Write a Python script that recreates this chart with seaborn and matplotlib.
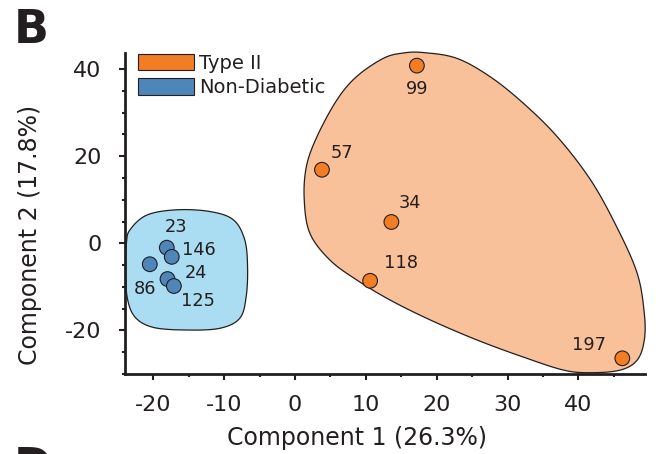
import numpy as np
import pandas as pd
import matplotlib
matplotlib.use('Agg')
import matplotlib.pyplot as plt
from matplotlib.patches import Patch
from matplotlib.ticker import MultipleLocator
import seaborn as sns

# PCA scores (component 1, component 2)
SAMPLE_IDS = ['23', '146', '86', '24', '125', '99', '57', '34', '118', '197']
GROUPS = ['Non-Diabetic'] * 5 + ['Type II'] * 5
COMP1 = [-18.1, -17.4, -20.5, -18.0, -17.1, 17.2, 3.8, 13.6, 10.6, 46.2]
COMP2 = [-1.0, -3.1, -4.8, -8.2, -9.8, 40.8, 16.9, 4.9, -8.6, -26.4]
# label offsets (points) for each sample id
LABEL_DX = [6.5, 19.7, -3.1, 20.4, 17.5, 0.0, 14.2, 13.2, 22.0, -24.0]
LABEL_DY = [15.0, 4.8, -18.0, 4.5, -10.8, -17.0, 12.0, 13.9, 13.0, 9.6]

# cluster outlines (data coords), smoothed into closed curves
TYPE2_HULL_X = [18.1, 22.8, 27.5, 32.2, 37.0, 41.7, 45.4, 48.3, 49.3, 49.3, 48.3, 45.9,
                41.7, 37.9, 32.2, 25.7, 19.1, 13.4, 8.7, 4.9, 2.1, 1.3, 1.6, 3.1,
                5.9, 8.7, 12.5, 15.3]
TYPE2_HULL_Y = [43.8, 42.5, 38.3, 32.2, 24.5, 14.6, 3.8, -6.9, -16.1, -22.2, -26.8, -29.1,
                -29.7, -29.1, -26.1, -22.2, -17.6, -13.0, -8.4, -3.8, 2.3, 10.0, 17.6, 24.5,
                32.9, 38.3, 42.5, 43.7]
NONDIAB_HULL_X = [-23.3, -20.9, -16.7, -12.0, -8.7, -7.1, -6.7, -6.9, -7.8, -10.6,
                  -15.3, -20.0, -22.6, -23.7, -23.9, -23.8]
NONDIAB_HULL_Y = [3.1, 6.5, 7.7, 7.3, 5.4, 0.8, -5.4, -12.3, -17.2, -19.5,
                  -19.9, -19.3, -16.9, -12.3, -5.4, 0.0]

COLORS = {'Type II': '#F27D23', 'Non-Diabetic': '#4E86BA'}
FILLS = {'Type II': '#F9C199', 'Non-Diabetic': '#AADCF2'}
INK = '#231F20'


def smooth_closed(xs, ys, n=24):
    """Periodic Catmull-Rom curve through the outline points."""
    pts = np.column_stack([xs, ys])
    m = len(pts)
    t = np.linspace(0, 1, n, endpoint=False)[:, None]
    segs = []
    for i in range(m):
        p0, p1, p2, p3 = pts[i - 1], pts[i], pts[(i + 1) % m], pts[(i + 2) % m]
        segs.append(0.5 * (2 * p1 + (p2 - p0) * t
                           + (2 * p0 - 5 * p1 + 4 * p2 - p3) * t ** 2
                           + (-p0 + 3 * p1 - 3 * p2 + p3) * t ** 3))
    curve = np.vstack(segs)
    return curve[:, 0], curve[:, 1]


df = pd.DataFrame({'id': SAMPLE_IDS, 'group': GROUPS, 'c1': COMP1, 'c2': COMP2,
                   'dx': LABEL_DX, 'dy': LABEL_DY})

sns.set_theme(style='white')
plt.rcParams['font.family'] = ['DejaVu Sans']
plt.rcParams['text.color'] = INK
plt.rcParams['axes.unicode_minus'] = False

fig = plt.figure(figsize=(6.56, 4.54), dpi=100)
ax = fig.add_axes([125 / 656, 1 - 374 / 454, 520 / 656, 321 / 454])

for grp, hx, hy in [('Type II', TYPE2_HULL_X, TYPE2_HULL_Y),
                    ('Non-Diabetic', NONDIAB_HULL_X, NONDIAB_HULL_Y)]:
    cx, cy = smooth_closed(hx, hy)
    ax.fill(cx, cy, facecolor=FILLS[grp], edgecolor=INK, linewidth=0.9,
            zorder=1, clip_on=False)

sns.scatterplot(data=df, x='c1', y='c2', hue='group', palette=COLORS, s=112,
                edgecolor=INK, linewidth=0.8, legend=False, ax=ax, zorder=3,
                clip_on=False)

for _, row in df.iterrows():
    ax.annotate(row['id'], (row['c1'], row['c2']), xytext=(row['dx'], row['dy']),
                textcoords='offset points', ha='center', va='center',
                fontsize=12.8, color=INK, zorder=4)

ax.set_xlim(-24.0, 49.4)
ax.set_ylim(-30.0, 43.7)
ax.set_xticks([-20, -10, 0, 10, 20, 30, 40])
ax.set_yticks([-20, 0, 20, 40])
ax.xaxis.set_minor_locator(MultipleLocator(5))
ax.yaxis.set_minor_locator(MultipleLocator(5))

for side in ['top', 'right']:
    ax.spines[side].set_visible(False)
for side in ['left', 'bottom']:
    ax.spines[side].set_linewidth(2)
    ax.spines[side].set_color(INK)

ax.tick_params(which='both', direction='out', color=INK, labelcolor=INK,
               bottom=True, left=True)
ax.tick_params(which='major', length=4.3, width=1.5, labelsize=16)
ax.tick_params(which='minor', length=2.5, width=1.5)
ax.tick_params(axis='x', which='major', pad=10.5)
ax.tick_params(axis='y', which='major', pad=12.5)

ax.set_xlabel('Component 1 (26.3%)', fontsize=17, color=INK)
ax.set_ylabel('Component 2 (17.8%)', fontsize=17, color=INK)
ax.xaxis.set_label_coords(0.4467, -0.162)
ax.yaxis.set_label_coords(-0.1596, 0.433)

handles = [Patch(facecolor=COLORS['Type II'], edgecolor=INK, linewidth=0.8, label='Type II'),
           Patch(facecolor=COLORS['Non-Diabetic'], edgecolor=INK, linewidth=0.8,
                 label='Non-Diabetic')]
ax.legend(handles=handles, loc='upper left', bbox_to_anchor=(0.0244, 0.998),
          frameon=False, fontsize=14, handlelength=2.89, handleheight=0.93,
          handletextpad=0.26, labelspacing=0.29, borderpad=0, borderaxespad=0)

fig.text(14 / 656, 1 - 43 / 454, 'B', fontsize=33, fontweight='bold',
         va='baseline', ha='left', color=INK)
# next panel's letter, cut by the bottom edge as in the reference
fig.text(14 / 656, 1 - 481 / 454, 'D', fontsize=33, fontweight='bold',
         va='baseline', ha='left', color=INK)

fig.savefig('out.png', dpi=100)
